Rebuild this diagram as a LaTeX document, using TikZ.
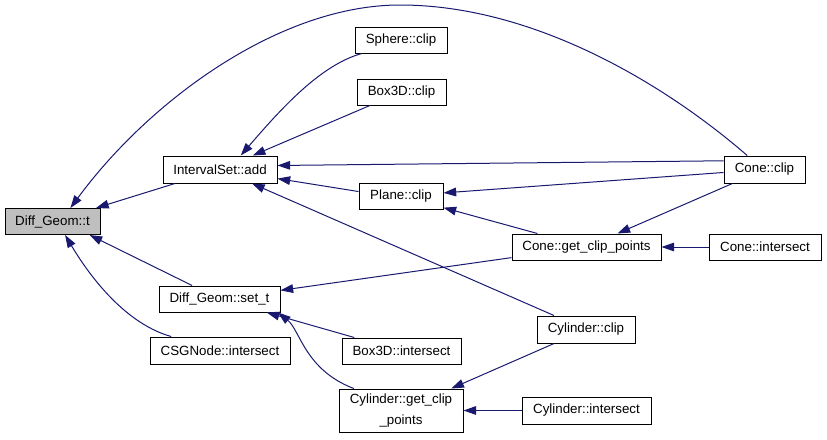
\documentclass[tikz,border=0pt]{standalone}
\usepackage{fontspec}
\setmainfont{Liberation Sans}
\usetikzlibrary{arrows.meta}
\definecolor{navy}{HTML}{191970}
\definecolor{hl}{HTML}{BFBFBF}
\begin{document}
\begin{tikzpicture}[x=0.75pt,y=-0.75pt,
  box/.style={draw=black, fill=white, line width=0.75pt, inner sep=0pt,
    font=\fontsize{10}{12}\selectfont, minimum height=19.5pt},
  link/.style={draw=navy, line width=0.75pt, {Triangle[length=9.5pt,width=6.5pt]}-}]
\useasboundingbox (0,0) rectangle (827,439);
% nodes
\node[box, fill=hl, minimum width=71.25pt] (dgt) at (52.5,221.5) {Diff\_Geom::t};
\node[box, minimum width=85.5pt, minimum height=20.25pt] (isa) at (220,169.5) {IntervalSet::add};
\node[box, minimum width=90.75pt] (dgst) at (219.5,299) {Diff\_Geom::set\_t};
\node[box, minimum width=105pt, minimum height=20.25pt] (csg) at (220,350.5) {CSGNode::intersect};
\node[box, minimum width=69pt] (sph) at (401,40) {Sphere::clip};
\node[box, minimum width=66.75pt] (b3c) at (401.5,92) {Box3D::clip};
\node[box, minimum width=63pt] (pln) at (401,196) {Plane::clip};
\node[box, minimum width=89.25pt] (b3i) at (401.5,351) {Box3D::intersect};
\node[box, minimum width=93pt, minimum height=32.25pt, align=center,
  font=\fontsize{10}{15.5}\selectfont] (cygcp) at (401,410.5) {Cylinder::get\_clip\\\_points};
\node[box, minimum width=60.75pt, minimum height=20.25pt] (conec) at (764.5,169.5) {Cone::clip};
\node[box, minimum width=111.75pt] (conegcp) at (586.5,247) {Cone::get\_clip\_points};
\node[box, minimum width=84pt] (conei) at (765,247) {Cone::intersect};
\node[box, minimum width=73.5pt, minimum height=20.25pt] (cylc) at (586,329.5) {Cylinder::clip};
\node[box, minimum width=96.75pt, minimum height=20.25pt] (cyli) at (586.5,410.5) {Cylinder::intersect};
% edges (arrow at callee)
\draw[link] (dgt) -- (isa);
\draw[link] (dgt.37) .. controls (150,100) and (280,5) .. (400,5)
  .. controls (530,5) and (660,80) .. (conec.141);
\draw[link] (dgt.-20) -- (dgst);
\draw[link] (dgt.-47) .. controls (95,285) and (130,325) .. (csg.164);
\draw[link] (isa.34) .. controls (280,110) and (320,65) .. (sph.-161);
\draw[link] (isa) -- (b3c);
\draw[link] (isa.4.5) -- (conec.168);
\draw[link] (isa.-9.5) -- (pln.174.6);
\draw[link] (isa) -- (cylc);
\draw[link] (pln) -- (conec);
\draw[link] (pln) -- (conegcp);
\draw[link] (conegcp) -- (conec);
\draw[link] (conegcp) -- (conei);
\draw[link] (dgst) -- (conegcp);
\draw[link] (dgst) -- (b3i);
\draw[link] (dgst.-13.7) .. controls (300,330) and (305,370) .. (cygcp.155);
\draw[link] (cygcp) -- (cylc);
\draw[link] (cygcp) -- (cyli);
\end{tikzpicture}
\end{document}
